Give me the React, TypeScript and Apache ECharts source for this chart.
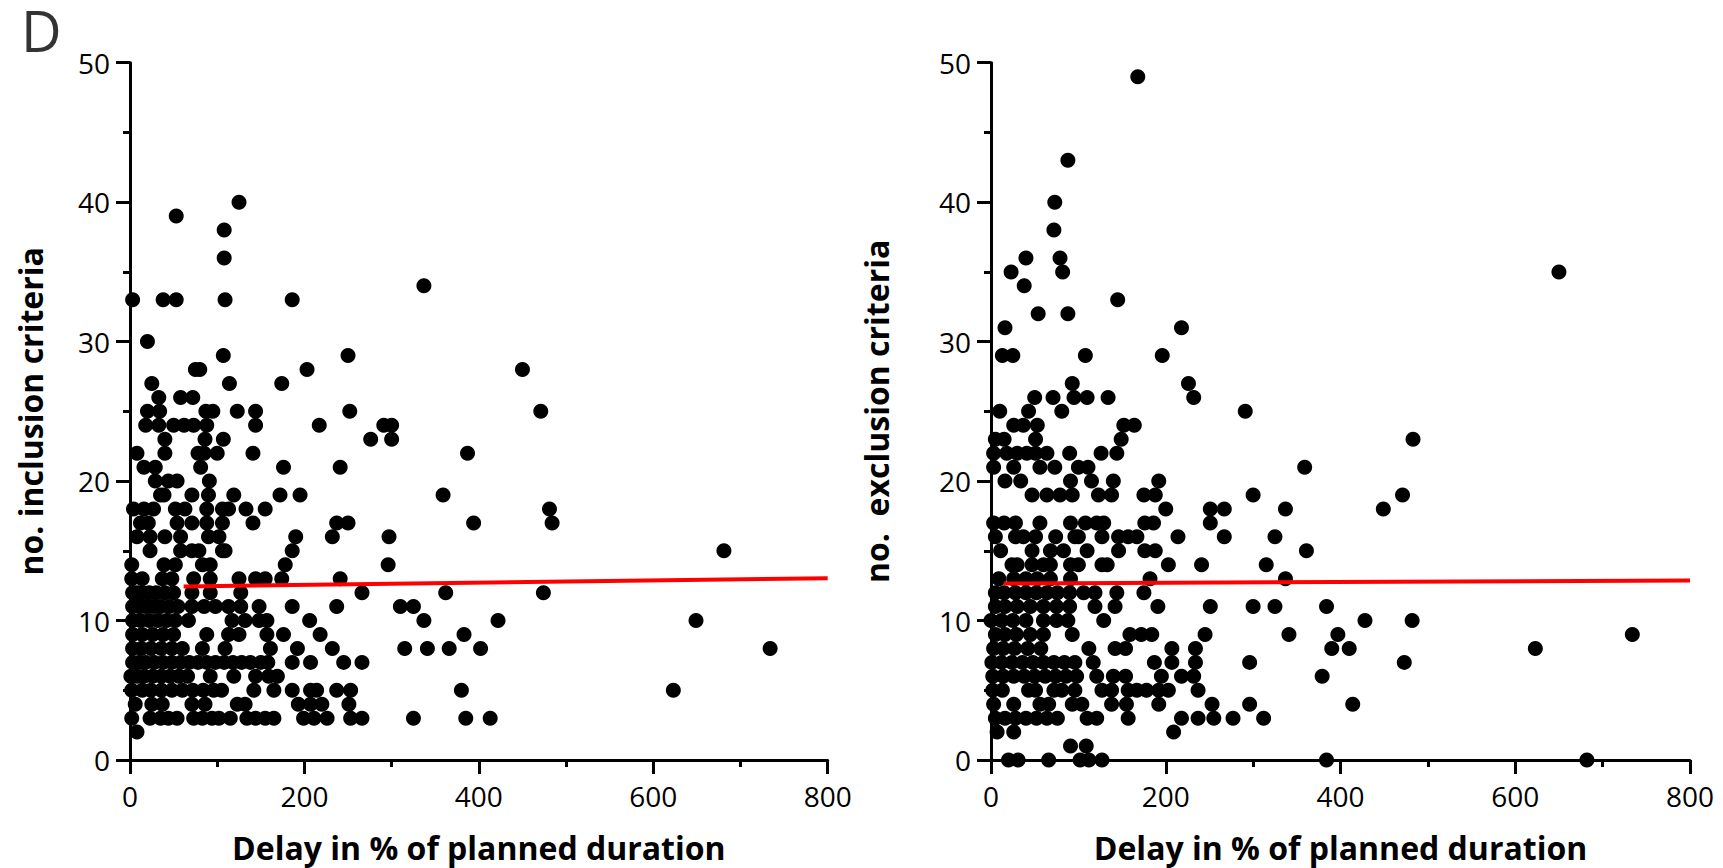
import React, { useEffect, useRef } from "react";
import * as echarts from "echarts";

// Panel left: no. inclusion criteria (y) vs delay in % of planned duration (x), grouped by y value
const inclusionRows: [number, number[]][] = [
  [40, [125]],
  [39, [53]],
  [38, [108]],
  [36, [108]],
  [34, [337]],
  [33, [3, 38, 53, 109, 186]],
  [30, [20]],
  [29, [107, 250]],
  [28, [75, 80, 203, 450]],
  [27, [25, 114, 174]],
  [26, [33, 58, 72]],
  [25, [20, 34, 87, 95, 123, 144, 252, 471]],
  [24, [18, 33, 50, 62, 73, 88, 144, 217, 291, 300]],
  [23, [40, 86, 107, 276, 300]],
  [22, [8, 40, 78, 85, 100, 141, 387]],
  [21, [16, 29, 81, 176, 241]],
  [20, [29, 44, 54, 91]],
  [19, [35, 39, 71, 90, 119, 172, 195, 359]],
  [18, [4, 16, 27, 52, 63, 88, 106, 113, 133, 155, 481]],
  [17, [12, 21, 54, 71, 88, 106, 141, 237, 250, 394, 484]],
  [16, [8, 23, 40, 58, 90, 102, 190, 232, 297]],
  [15, [23, 58, 71, 79, 106, 109, 186, 681]],
  [14, [2, 39, 52, 83, 92, 178, 296]],
  [13, [2, 14, 37, 48, 73, 92, 125, 144, 155, 174, 241]],
  [12, [3, 8, 14, 22, 30, 40, 50, 71, 92, 127, 266, 362, 474]],
  [11, [3, 10, 18, 27, 35, 45, 55, 71, 85, 98, 113, 127, 148, 186, 237, 310, 325]],
  [10, [3, 12, 22, 32, 42, 52, 67, 117, 132, 148, 157, 206, 337, 422, 649]],
  [9, [3, 14, 26, 38, 50, 88, 113, 125, 157, 176, 218, 383]],
  [8, [3, 13, 24, 36, 48, 60, 83, 109, 161, 192, 232, 315, 341, 366, 402, 734]],
  [7, [3, 10, 18, 28, 38, 48, 58, 68, 78, 88, 98, 108, 118, 128, 138, 150, 158, 186, 207, 245, 266]],
  [6, [1, 8, 16, 26, 36, 46, 56, 66, 92, 119, 144, 159, 169]],
  [5, [2, 14, 24, 36, 48, 60, 72, 84, 96, 105, 142, 165, 186, 207, 214, 237, 253, 380, 623]],
  [4, [6, 25, 37, 71, 86, 123, 132, 193, 207, 220, 251]],
  [3, [2, 23, 35, 44, 54, 73, 83, 94, 102, 115, 134, 144, 155, 165, 199, 211, 226, 253, 266, 325, 385, 413]],
  [2, [8]],
];

// Panel right: no. exclusion criteria (y) vs delay (x), grouped by y value
const exclusionRows: [number, number[]][] = [
  [49, [168]],
  [43, [88]],
  [40, [73]],
  [38, [72]],
  [36, [40, 79]],
  [35, [23, 82, 650]],
  [34, [38]],
  [33, [145]],
  [32, [54, 88]],
  [31, [16, 218]],
  [29, [13, 25, 108, 196]],
  [27, [93, 226]],
  [26, [50, 71, 95, 110, 134, 232]],
  [25, [10, 43, 81, 291]],
  [24, [26, 37, 53, 152, 164]],
  [23, [5, 15, 51, 149, 483]],
  [22, [3, 18, 30, 41, 51, 64, 90, 126, 144]],
  [21, [3, 26, 56, 73, 100, 111, 359]],
  [20, [16, 34, 91, 115, 140, 192]],
  [19, [47, 64, 79, 93, 123, 138, 175, 188, 300, 471]],
  [18, [200, 251, 267, 337, 449]],
  [17, [3, 15, 28, 56, 91, 108, 121, 129, 176, 186, 251]],
  [16, [5, 28, 37, 51, 74, 96, 100, 127, 146, 157, 167, 214, 267, 325]],
  [15, [11, 47, 68, 83, 110, 146, 176, 188, 361]],
  [14, [24, 30, 47, 60, 68, 91, 100, 127, 133, 203, 241, 315]],
  [13, [9, 26, 40, 53, 68, 91, 182, 337]],
  [12, [5, 15, 28, 40, 52, 64, 76, 90, 106, 119, 144, 175]],
  [11, [5, 16, 30, 45, 60, 75, 90, 119, 142, 191, 251, 300, 325, 384]],
  [10, [0, 12, 25, 40, 60, 75, 88, 129, 428, 482]],
  [9, [5, 16, 29, 45, 60, 93, 159, 172, 184, 245, 341, 397, 734]],
  [8, [3, 14, 27, 42, 57, 112, 142, 154, 207, 234, 390, 410, 623]],
  [7, [1, 12, 24, 36, 48, 60, 72, 84, 96, 117, 187, 207, 234, 296, 473]],
  [6, [2, 14, 26, 38, 50, 62, 74, 86, 98, 121, 140, 154, 195, 218, 232, 379]],
  [5, [2, 13, 43, 51, 72, 81, 96, 127, 138, 157, 167, 178, 192, 203, 237]],
  [4, [3, 26, 56, 66, 93, 104, 138, 155, 192, 253, 296, 414]],
  [3, [5, 16, 28, 40, 52, 64, 76, 110, 121, 157, 218, 237, 255, 277, 312]],
  [2, [7, 26, 209]],
  [1, [91, 109]],
  [0, [20, 31, 66, 102, 112, 127, 384, 682]],
];

// Regression lines (start and end points)
const inclusionFit: [number, number][] = [[61.5, 12.44], [800, 13.03]];
const exclusionFit: [number, number][] = [[14.5, 12.66], [800, 12.87]];

const xTitle = "Delay in % of planned duration";
const yTitles = ["no. inclusion criteria", "no.  exclusion criteria"];
const panelLetter = "D";

const FONT = "Open Sans";

function toPoints(rows: [number, number[]][]): [number, number][] {
  const pts: [number, number][] = [];
  rows.forEach(([y, xs]) => xs.forEach((x) => pts.push([x, y])));
  return pts;
}

export default function App() {
  const ref = useRef<HTMLDivElement>(null);
  useEffect(() => {
    if (!ref.current) return;
    const chart = echarts.init(ref.current, undefined, { renderer: "svg" });
    const axisCommon = {
      type: "value" as const,
      axisLine: { show: true, onZero: false, lineStyle: { color: "#000", width: 3 } },
      axisTick: { show: true, length: 14, lineStyle: { color: "#000", width: 3 } },
      minorTick: { show: true, splitNumber: 2, length: 7, lineStyle: { color: "#000", width: 3 } },
      splitLine: { show: false },
      axisLabel: { fontSize: 28, color: "#000", fontFamily: FONT },
      nameLocation: "middle" as const,
      nameTextStyle: { fontSize: 32, fontWeight: "bold" as const, color: "#000", fontFamily: FONT },
    };
    const grids = [
      { left: 130, top: 62.7, width: 697.7, height: 698.3 },
      { left: 991, top: 62.7, width: 699, height: 698.3 },
    ];
    const option = {
      animation: false,
      textStyle: { fontFamily: FONT },
      grid: grids,
      xAxis: [0, 1].map((i) => ({
        ...axisCommon,
        gridIndex: i,
        min: 0,
        max: 800,
        interval: 200,
        axisLabel: { ...axisCommon.axisLabel, margin: 22 },
        name: xTitle,
        nameGap: 71,
      })),
      yAxis: [0, 1].map((i) => ({
        ...axisCommon,
        gridIndex: i,
        min: 0,
        max: 50,
        interval: 10,
        axisLabel: { ...axisCommon.axisLabel, margin: 20 },
        name: yTitles[i],
        nameGap: i === 0 ? 84 : 98.5,
      })),
      graphic: [
        {
          type: "text",
          left: 21,
          top: 2,
          style: { text: panelLetter, fontSize: 56, fontFamily: FONT, fill: "#333" },
        },
      ],
      series: [
        {
          type: "scatter",
          xAxisIndex: 0,
          yAxisIndex: 0,
          data: toPoints(inclusionRows),
          symbol: "circle",
          symbolSize: 15,
          itemStyle: { color: "#000", opacity: 1 },
          clip: false,
        },
        {
          type: "scatter",
          xAxisIndex: 1,
          yAxisIndex: 1,
          data: toPoints(exclusionRows),
          symbol: "circle",
          symbolSize: 15,
          itemStyle: { color: "#000", opacity: 1 },
          clip: false,
        },
        {
          type: "line",
          xAxisIndex: 0,
          yAxisIndex: 0,
          data: inclusionFit,
          symbol: "none",
          z: 5,
          lineStyle: { color: "#ff0000", width: 4 },
        },
        {
          type: "line",
          xAxisIndex: 1,
          yAxisIndex: 1,
          data: exclusionFit,
          symbol: "none",
          z: 5,
          lineStyle: { color: "#ff0000", width: 4 },
        },
      ],
    };
    chart.setOption(option as any);
    return () => chart.dispose();
  }, []);
  return (
    <div
      ref={ref}
      style={{ position: "absolute", left: 0, top: 0, width: 1723, height: 868, background: "#fff" }}
    />
  );
}
